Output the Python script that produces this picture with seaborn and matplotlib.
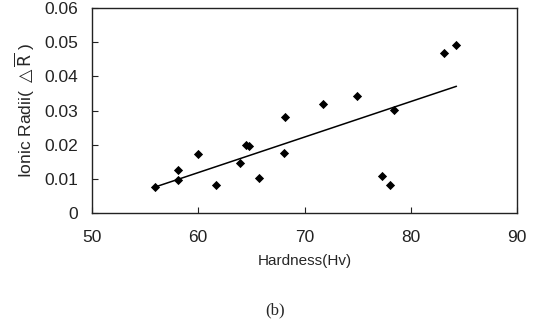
import pandas as pd
import matplotlib
matplotlib.use("Agg")
import matplotlib.pyplot as plt
import seaborn as sns

hardness = [55.9, 58.1, 58.1, 60.0, 61.7, 63.9, 64.5, 64.8, 65.7, 68.2,
            68.1, 71.7, 74.9, 78.4, 77.3, 78.0, 83.1, 84.3]
radii = [0.0075, 0.0125, 0.0097, 0.0172, 0.0081, 0.0147, 0.0198, 0.0195, 0.0103, 0.0280,
         0.0175, 0.0320, 0.0342, 0.0301, 0.0107, 0.0083, 0.0468, 0.0491]

df = pd.DataFrame({"hardness": hardness, "radii": radii})

sns.set_style("ticks")
plt.rcParams['font.family'] = ['Liberation Sans', 'DejaVu Sans']
plt.rcParams['mathtext.fontset'] = 'dejavusans'

fig = plt.figure(figsize=(5.33, 3.36), dpi=100)
ax = fig.add_axes([0.1726, 0.366, 0.7974, 0.610])

sns.regplot(data=df, x="hardness", y="radii", scatter=False, ci=None,
            color="black", line_kws={"linewidth": 1.1}, ax=ax)
sns.scatterplot(data=df, x="hardness", y="radii", marker="D", s=22,
                color="black", edgecolor="black", linewidth=0, ax=ax)

ax.set_xlim(50, 90)
ax.set_ylim(0, 0.06)
ax.set_xticks([50, 60, 70, 80, 90])
ax.set_yticks([0, 0.01, 0.02, 0.03, 0.04, 0.05, 0.06])
ax.set_yticklabels(["0", "0.01", "0.02", "0.03", "0.04", "0.05", "0.06"])
ax.tick_params(direction="in", length=4, width=0.8, labelsize=12.5, colors="#222222")
ax.tick_params(axis="x", pad=12)
ax.tick_params(axis="y", pad=10)
for side in ["top", "right", "left", "bottom"]:
    ax.spines[side].set_visible(True)
    ax.spines[side].set_color("#222222")
    ax.spines[side].set_linewidth(1.0)

ax.set_xlabel("Hardness(Hv)", fontsize=11, labelpad=7)
ax.set_ylabel(r"Ionic Radii( $\triangle\overline{\mathrm{R}}$ )", fontsize=12.5, labelpad=5)

fig.text(0.516, 0.063, "(b)", fontsize=12, family="Liberation Serif", ha="center")

fig.savefig("out.png", dpi=100)
